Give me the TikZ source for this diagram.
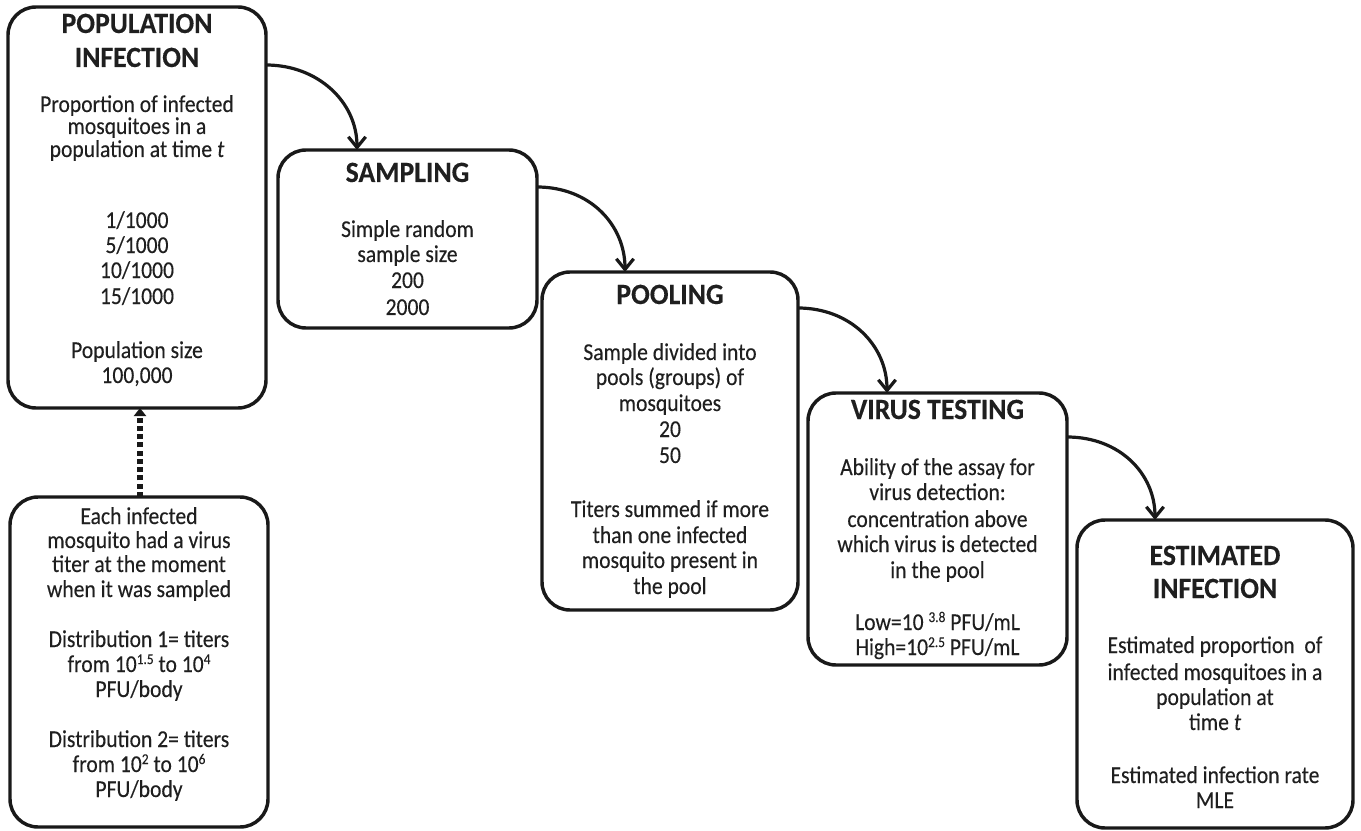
\documentclass[tikz,border=0pt]{standalone}
\usepackage{graphicx}
\usepackage{fontspec}
\setmainfont{Carlito}[FakeBold=0.25]
\usetikzlibrary{arrows.meta}
\newcommand\bodyln[1]{\scalebox{1}[1.12]{#1}}
\newcommand\titleln[1]{\scalebox{1}[1.06]{#1}}
\newcommand\sups[1]{\raisebox{0.33em}{\fontsize{10}{10}\selectfont #1}}
\begin{document}
\begin{tikzpicture}[x=0.75pt,y=-0.75pt,
  box/.style={draw=black!90, line width=2.6pt, rounded corners=21pt, inner sep=0pt, outer sep=0pt},
  tt/.style={anchor=base, inner sep=0pt, text=black!88, font=\fontsize{20.8}{25}\selectfont\bfseries},
  tx/.style={anchor=base, inner sep=0pt, text=black!88, font=\fontsize{16.2}{19}\selectfont},
  flow/.style={draw=black!90, line width=2.4pt, -{Straight Barb[length=8pt,width=13pt]}},
  dots/.style={draw=black!90, line width=4pt, dash pattern=on 3.8pt off 2.4pt, -{Triangle[length=6pt,width=9pt]}}]
\useasboundingbox (0,0) rectangle (1361,831);

% boxes
\node[box, minimum width=193.5pt, minimum height=300.75pt] (b1) at (137,207.5) {};
\node[box, minimum width=193.5pt, minimum height=247.5pt] (b2) at (139,662) {};
\node[box, minimum width=194.25pt, minimum height=133.5pt] (b3) at (407.5,239) {};
\node[box, minimum width=192pt, minimum height=253.5pt] (b4) at (670,441) {};
\node[box, minimum width=194.25pt, minimum height=204pt] (b5) at (937.5,529) {};
\node[box, minimum width=207pt, minimum height=231pt] (b6) at (1215,674) {};

% box 1 text
\node[tt] (a1) at (137,33) {\titleln{POPULATION}};
\node[tt] (a2) at (137,67) {\titleln{INFECTION}};
\node[tx] (a3) at (137,112) {\bodyln{Proportion of infected}};
\node[tx] (a4) at (137,134) {\bodyln{mosquitoes in a}};
\node[tx] (a5) at (137,157) {\bodyln{population at time \textit{t}}};
\node[tx] (a6) at (137,228) {\bodyln{1/1000}};
\node[tx] (a7) at (137,253) {\bodyln{5/1000}};
\node[tx] (a8) at (137,278) {\bodyln{10/1000}};
\node[tx] (a9) at (137,304) {\bodyln{15/1000}};
\node[tx] (a10) at (137,358) {\bodyln{Population size}};
\node[tx] (a11) at (137,383) {\bodyln{100,000}};

% box 2 text
\node[tx] (c1) at (139,524) {\bodyln{Each infected}};
\node[tx] (c2) at (139,548) {\bodyln{mosquito had a virus}};
\node[tx] (c3) at (139,572) {\bodyln{titer at the moment}};
\node[tx] (c4) at (139,597) {\bodyln{when it was sampled}};
\node[tx] (c5) at (139,647) {\bodyln{Distribution 1= titers}};
\node[tx] (c6) at (139,672) {\bodyln{from 10\sups{1.5} to 10\sups{4}}};
\node[tx] (c7) at (139,697) {\bodyln{PFU/body}};
\node[tx] (c8) at (139,747) {\bodyln{Distribution 2= titers}};
\node[tx] (c9) at (139,772) {\bodyln{from 10\sups{2} to 10\sups{6}}};
\node[tx] (c10) at (139,797) {\bodyln{PFU/body}};

% box 3 text
\node[tt] (d1) at (407.5,182) {\titleln{SAMPLING}};
\node[tx] (d2) at (407.5,237) {\bodyln{Simple random}};
\node[tx] (d3) at (407.5,262) {\bodyln{sample size}};
\node[tx] (d4) at (407.5,288) {\bodyln{200}};
\node[tx] (d5) at (407.5,315) {\bodyln{2000}};

% box 4 text
\node[tt] (e1) at (670,304) {\titleln{POOLING}};
\node[tx] (e2) at (670,360) {\bodyln{Sample divided into}};
\node[tx] (e3) at (670,385) {\bodyln{pools (groups) of}};
\node[tx] (e4) at (670,411) {\bodyln{mosquitoes}};
\node[tx] (e5) at (670,437) {\bodyln{20}};
\node[tx] (e6) at (670,463) {\bodyln{50}};
\node[tx] (e7) at (670,517) {\bodyln{Titers summed if more}};
\node[tx] (e8) at (670,543) {\bodyln{than one infected}};
\node[tx] (e9) at (670,568) {\bodyln{mosquito present in}};
\node[tx] (e10) at (670,594) {\bodyln{the pool}};

% box 5 text
\node[tt] (f1) at (937.5,419) {\titleln{VIRUS TESTING}};
\node[tx] (f2) at (937.5,475) {\bodyln{Ability of the assay for}};
\node[tx] (f3) at (937.5,500) {\bodyln{virus detection:}};
\node[tx] (f4) at (937.5,527) {\bodyln{concentration above}};
\node[tx] (f5) at (937.5,552) {\bodyln{which virus is detected}};
\node[tx] (f6) at (937.5,578) {\bodyln{in the pool}};
\node[tx] (f7) at (937.5,630) {\bodyln{Low=10 \sups{3.8} PFU/mL}};
\node[tx] (f8) at (937.5,655) {\bodyln{High=10\sups{2.5} PFU/mL}};

% box 6 text
\node[tt] (g1) at (1215,565) {\titleln{ESTIMATED}};
\node[tt] (g2) at (1215,598) {\titleln{INFECTION}};
\node[tx] (g3) at (1215,653) {\bodyln{Estimated proportion\ \ of}};
\node[tx] (g4) at (1215,680) {\bodyln{infected mosquitoes in a}};
\node[tx] (g5) at (1215,705) {\bodyln{population at}};
\node[tx] (g6) at (1215,730) {\bodyln{time \textit{t}}};
\node[tx] (g7) at (1215,783) {\bodyln{Estimated infection rate}};
\node[tx] (g8) at (1215,808) {\bodyln{MLE}};

% connectors
\draw[flow] (b1.east |- 0,65) .. controls (318,65) and (357,102) .. (b3.north -| 357,0);
\draw[flow] (b3.east |- 0,187) .. controls (590,187) and (625,225) .. (b4.north -| 625,0);
\draw[flow] (b4.east |- 0,308) .. controls (850,308) and (887,345) .. (b5.north -| 887,0);
\draw[flow] (b5.east |- 0,437) .. controls (1120,437) and (1155,474) .. (b6.north -| 1155,0);
\draw[dots] (b2.north -| 140,0) -- (b1.south -| 140,0);
\end{tikzpicture}
\end{document}
